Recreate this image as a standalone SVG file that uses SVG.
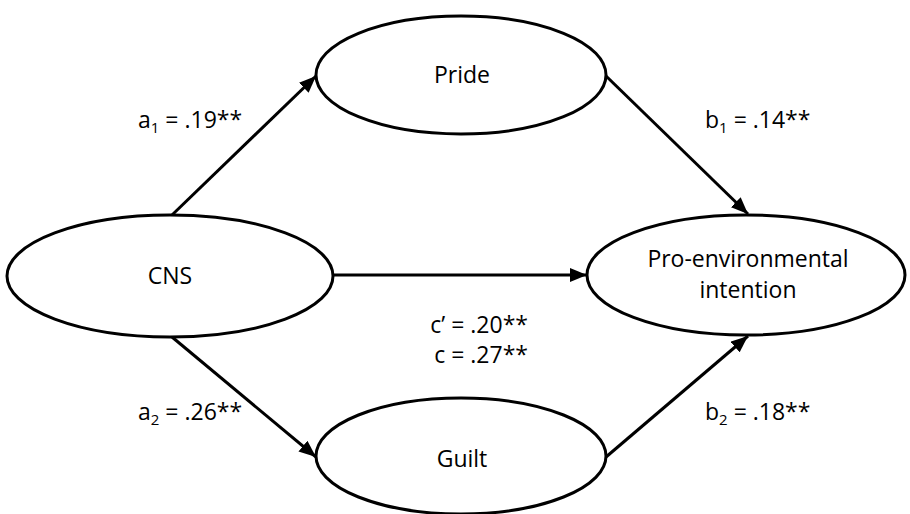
<svg xmlns="http://www.w3.org/2000/svg" width="910" height="514" viewBox="0 0 910 514">
<style>
.n{fill:#fff;stroke:#000;stroke-width:3}
.t{font-family:"Open Sans","Liberation Sans",sans-serif;font-size:23px;fill:#000}
.c{text-anchor:middle}
.r{text-anchor:end}
.e{stroke:#000;stroke-width:3;fill:none;marker-end:url(#ah)}
.s{font-size:15px}
</style>
<defs>
<marker id="ah" markerUnits="userSpaceOnUse" markerWidth="18" markerHeight="14" refX="17" refY="7" orient="auto">
<path d="M0,0 L17,7 L0,14 z" fill="#000"/>
</marker>
</defs>
<rect width="910" height="514" fill="#fff"/>
<g id="connectors">
<line class="e" x1="172" y1="215" x2="316" y2="76"/>
<line class="e" x1="606" y1="76" x2="748" y2="214"/>
<line class="e" x1="333" y1="275" x2="587" y2="275"/>
<line class="e" x1="172" y1="337" x2="316" y2="457"/>
<line class="e" x1="606" y1="457" x2="748" y2="336"/>
</g>
<g id="cns">
<ellipse class="n" cx="170" cy="276" rx="163" ry="61"/>
<text class="t c" x="170" y="284">CNS</text>
</g>
<g id="pride">
<ellipse class="n" cx="461" cy="75" rx="145" ry="59"/>
<text class="t c" x="462" y="83">Pride</text>
</g>
<g id="guilt">
<ellipse class="n" cx="461" cy="456" rx="145" ry="58"/>
<text class="t c" x="462" y="467">Guilt</text>
</g>
<g id="pei">
<ellipse class="n" cx="746" cy="275" rx="159" ry="60"/>
<text class="t c" x="748" y="267">Pro-environmental</text>
<text class="t c" x="748" y="298">intention</text>
</g>
<g id="labels">
<text class="t" x="138" y="128">a<tspan class="s" dy="5">1</tspan><tspan dy="-5"> = .19**</tspan></text>
<text class="t" x="705" y="128">b<tspan class="s" dy="5">1</tspan><tspan dy="-5"> = .14**</tspan></text>
<text class="t" x="138" y="420">a<tspan class="s" dy="5">2</tspan><tspan dy="-5"> = .26**</tspan></text>
<text class="t" x="705" y="420">b<tspan class="s" dy="5">2</tspan><tspan dy="-5"> = .18**</tspan></text>
<text class="t r" x="528" y="333">c’ = .20**</text>
<text class="t r" x="528" y="363">c = .27**</text>
</g>
</svg>
